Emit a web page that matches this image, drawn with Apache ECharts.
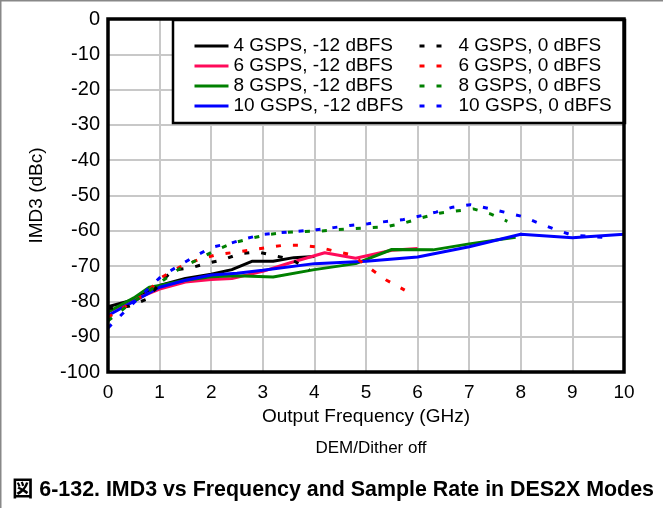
<!DOCTYPE html>
<html><head><meta charset="utf-8">
<script src="https://cdn.jsdelivr.net/npm/echarts@6/dist/echarts.min.js"></script>
<style>html,body{margin:0;padding:0;background:#fff}#c{width:663px;height:508px}</style>
</head><body><div id="c"></div><script>
// tick settings
const xMin = 0, xMax = 10, xStep = 1;
const yMin = -100, yMax = 0, yStep = 10;

// -12 dBFS series (solid)
const s4_m12 = [[0,-81.5],[0.5,-79.5],[1,-75.5],[1.5,-73.5],[2,-72.3],[2.4,-71],[2.8,-68.6],[3.2,-68.6],[3.6,-67.6],[4,-67.3]];
const s6_m12 = [[0,-83],[0.5,-79.5],[1,-76.5],[1.5,-74.5],[2,-73.8],[2.4,-73.5],[3,-71.5],[3.5,-69.2],[4.2,-66.2],[4.8,-67.8],[5.5,-65.5],[6,-65]];
const s8_m12 = [[0,-83],[0.5,-79],[0.8,-76],[1,-75.5],[1.5,-74],[2,-73],[2.5,-72.7],[3.2,-73.1],[4,-71],[4.8,-69.3],[5.5,-65.3],[6.3,-65.4],[7,-63.7],[7.9,-61.8]];
const s10_m12 = [[0,-84],[0.5,-80],[1,-76],[1.5,-74],[2,-72.5],[2.5,-72],[3,-71.2],[4,-69.3],[5,-68.6],[6,-67.4],[7,-64.5],[8,-61],[9,-62],[10,-61]];

// 0 dBFS series (dashed)
const s4_0 = [[0,-82],[0.4,-81.4],[0.75,-79.4],[1,-75],[1.25,-71.2],[1.6,-70.5],[1.9,-69.3],[2.25,-68.1],[2.55,-66.5],[2.9,-66],[3.25,-67.1],[3.55,-68.1],[3.9,-71]];
const s6_0 = [[0,-84.5],[0.7,-78.2],[1.05,-73.1],[1.4,-70.2],[1.75,-68.2],[2.07,-66.9],[2.4,-66.2],[2.73,-65.5],[3.07,-64.8],[3.4,-64.1],[3.7,-64.1],[4.07,-64.6],[4.4,-65.8],[4.73,-66.8],[5.05,-70.4],[5.4,-74],[5.75,-76.8]];
const s8_0 = [[0,-85.5],[0.4,-81],[0.73,-77.8],[1.07,-74],[1.41,-70.5],[1.75,-68.1],[2.07,-65.6],[2.41,-63.5],[2.75,-62.2],[3.09,-61.1],[3.41,-60.5],[3.75,-60.2],[4.09,-60.1],[4.42,-59.7],[4.75,-59.4],[5.08,-59.1],[5.41,-58.8],[5.74,-57.8],[6.08,-56.3],[6.42,-55],[6.74,-54.4],[7.08,-53.8],[7.41,-55.2],[7.74,-57.3]];
const s10_0 = [[0,-87.5],[0.4,-81.8],[0.72,-77.3],[1.03,-72.9],[1.36,-70],[1.7,-67.1],[2.02,-64.6],[2.38,-63.5],[2.7,-62.1],[3.02,-61],[3.36,-60.5],[3.69,-60.1],[4.04,-59.7],[4.37,-59.1],[4.69,-58.5],[5.04,-58],[5.37,-57.4],[5.7,-56.9],[6.02,-55.9],[6.36,-54.7],[6.68,-53.3],[7.02,-52.6],[7.36,-53.6],[7.68,-54.7],[8.02,-55.9],[8.34,-57.8],[8.68,-59.7],[9.01,-61.3],[9.36,-61.6],[9.7,-62]];

const solidNames = ['4 GSPS, -12 dBFS','6 GSPS, -12 dBFS','8 GSPS, -12 dBFS','10 GSPS, -12 dBFS'];
const dashNames = ['4 GSPS, 0 dBFS','6 GSPS, 0 dBFS','8 GSPS, 0 dBFS','10 GSPS, 0 dBFS'];
const solidData = [s4_m12, s6_m12, s8_m12, s10_m12];
const dashData = [s4_0, s6_0, s8_0, s10_0];
const solidColors = ['#000000','#ff0a5a','#008000','#0000ff'];
const dashColors = ['#000000','#ff0000','#008000','#0000ff'];

const FONT = "'Liberation Sans', Arial, 'Noto Sans CJK JP', sans-serif";
const chart = echarts.init(document.getElementById('c'));
const series = [];
solidData.forEach((d,i)=>series.push({name:solidNames[i],type:'line',data:d,showSymbol:false,symbol:'none',
  lineStyle:{color:solidColors[i],width:3},itemStyle:{color:solidColors[i]},z:2}));
dashData.forEach((d,i)=>series.push({name:dashNames[i],type:'line',data:d,showSymbol:false,symbol:'none',
  lineStyle:{color:dashColors[i],width:3,type:[5,12]},itemStyle:{color:dashColors[i]},z:2}));

const legBase = {orient:'vertical',top:31,itemGap:0,itemHeight:20,z:6,
  itemStyle:{opacity:0},lineStyle:{width:3},
  textStyle:{fontFamily:FONT,fontSize:19,color:'#000',lineHeight:20},selectedMode:false};

chart.setOption({
  animation:false,
  backgroundColor:'#fff',
  grid:{left:108,right:39,top:19,bottom:136,show:true,borderColor:'#000',borderWidth:3.5,z:5},
  xAxis:{type:'value',min:xMin,max:xMax,interval:xStep,
    name:'Output Frequency (GHz)',nameLocation:'middle',nameGap:30,
    nameTextStyle:{fontFamily:FONT,fontSize:19,color:'#000'},
    axisLine:{show:false},axisTick:{show:false},
    axisLabel:{fontFamily:FONT,fontSize:19,color:'#000',margin:11},
    splitLine:{lineStyle:{color:'#c8c8c8',width:2}}},
  yAxis:{type:'value',min:yMin,max:yMax,interval:yStep,
    name:'IMD3 (dBc)',nameLocation:'middle',nameGap:62,
    nameTextStyle:{fontFamily:FONT,fontSize:19,color:'#000'},
    axisLine:{show:false},axisTick:{show:false},
    axisLabel:{fontFamily:FONT,fontSize:20,color:'#000',margin:8},
    splitLine:{lineStyle:{color:'#c8c8c8',width:2}}},
  legend:[
    Object.assign({},legBase,{left:188,itemWidth:34,data:solidNames}),
    Object.assign({},legBase,{left:413,itemWidth:24,data:dashNames,
      textStyle:Object.assign({},legBase.textStyle,{padding:[0,0,0,10]})})
  ],
  graphic:[
    {type:'rect',z:4,shape:{x:173,y:20,width:452,height:103},style:{fill:'#fff',stroke:'#000',lineWidth:2.5}},
    {type:'text',z:4,style:{x:371,y:448,text:'DEM/Dither off',fontFamily:FONT,fontSize:17,fill:'#000',textAlign:'center',textVerticalAlign:'middle'}},
    {type:'text',z:4,style:{x:12,y:490,text:'図 6-132. IMD3 vs Frequency and Sample Rate in DES2X Modes',fontFamily:FONT,fontSize:21.4,fontWeight:'bold',fill:'#000',textAlign:'left',textVerticalAlign:'middle'}},
    {type:'line',z:4,shape:{x1:0.5,y1:0,x2:0.5,y2:508},style:{stroke:'#888',lineWidth:2}},
    {type:'line',z:4,shape:{x1:0,y1:0.5,x2:663,y2:0.5},style:{stroke:'#888',lineWidth:2}}
  ],
  series:series
});
</script></body></html>
